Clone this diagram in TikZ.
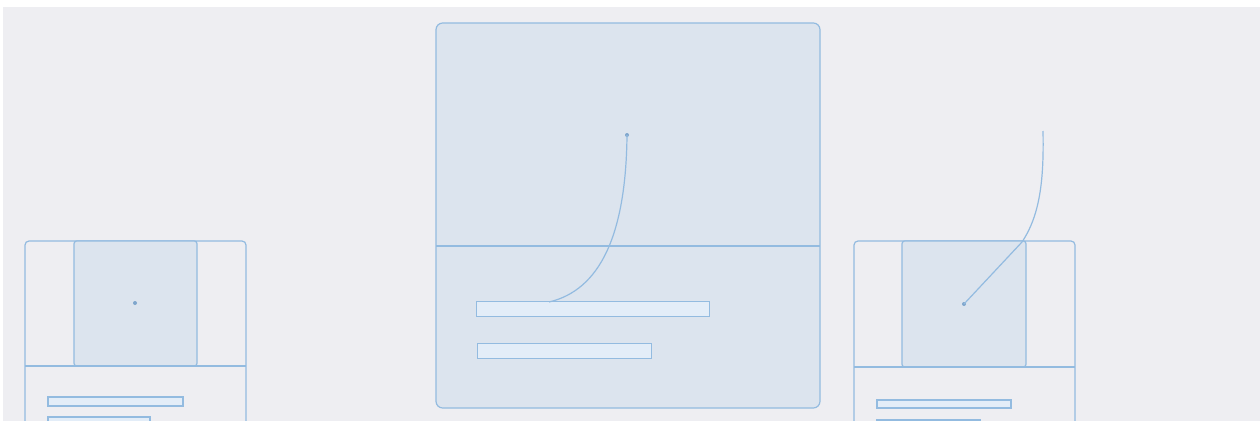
\documentclass[tikz,border=0pt]{standalone}
\begin{document}
\begin{tikzpicture}[x=0.75pt,y=-0.75pt,
  line width=0.9pt,
  edge/.style={draw=lineblue},
  card/.style={draw=lineblue, rounded corners=3pt},
  panel/.style={draw=lineblue, fill=panelfill},
  bar/.style={draw=lineblue, fill=barfill, line width=0.8pt},
  dotc/.style={circle, fill=dotblue, inner sep=0pt, minimum size=3pt}]
\definecolor{lineblue}{HTML}{93BBE0}
\definecolor{panelfill}{HTML}{DCE4EE}
\definecolor{barfill}{HTML}{E3EDF8}
\definecolor{bggray}{HTML}{EEEEF2}
\definecolor{dotblue}{HTML}{7FA6CC}
\useasboundingbox (0,0) rectangle (1260,421);
\fill[white] (0,0) rectangle (1260,421);
\fill[bggray] (3,7) rectangle (1260,421);
% left card
\draw[card] (25,430) -- (25,241) -- (246,241) -- (246,430);
\draw[panel, rounded corners=2pt] (74,366) rectangle (197,241);
\draw[edge] (25,366) -- (246,366);
\node[dotc] (ldot) at (135,303) {};
\draw[bar] (48,397) rectangle (183,406);
\draw[bar] (48,417) rectangle (150,426);
% middle card
\draw[card, fill=panelfill, rounded corners=5pt] (436,23) rectangle (820,408);
\draw[edge] (436,246) -- (820,246);
\node[bar, minimum width=233*0.75pt, minimum height=15*0.75pt, inner sep=0pt, anchor=north west] (mbar1) at (476,301) {};
\node[bar, minimum width=174*0.75pt, minimum height=15*0.75pt, inner sep=0pt, anchor=north west] (mbar2) at (477,343) {};
\node[dotc] (mdot) at (627,135) {};
\coordinate (mend) at (549,302);
\draw[edge] (mdot.center) .. controls (626,235) and (600,290) .. (mend);
% right card
\draw[card] (854,430) -- (854,241) -- (1075,241) -- (1075,430);
\draw[panel, rounded corners=2pt] (902,367) rectangle (1026,241);
\draw[edge] (854,367) -- (1075,367);
\node[dotc] (rdot) at (964,304) {};
\draw[bar] (877,400) rectangle (1011,408);
\draw[bar] (877,420) rectangle (980,428);
\coordinate (rtop) at (1043,131);
\draw[edge] (rtop) .. controls (1044,180) and (1040,215) .. (1022,242) -- (rdot.center);
\end{tikzpicture}
\end{document}
